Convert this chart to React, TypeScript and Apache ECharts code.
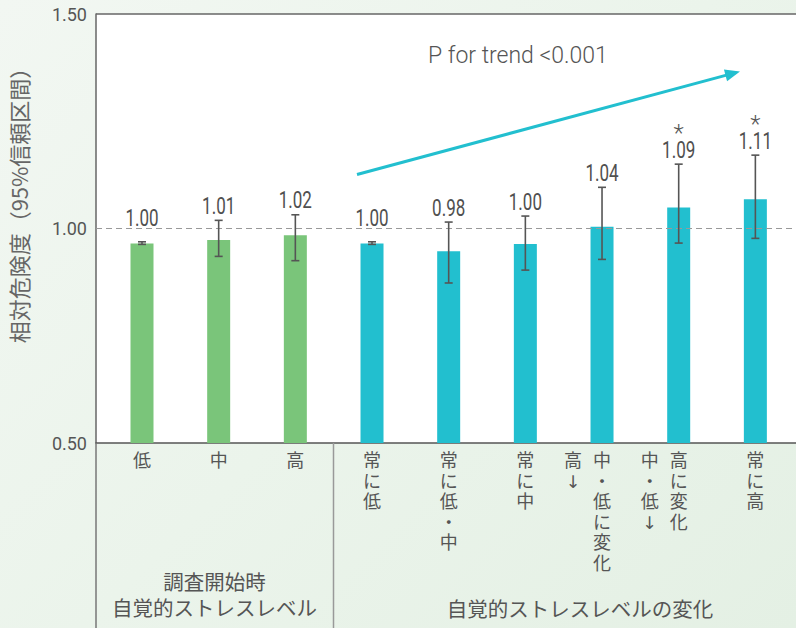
import React, { useEffect, useRef } from "react";
import * as echarts from "echarts";

// ---- data ----
const categories = ["低", "中", "高", "常に低", "常に低・中", "常に中", "中・低に変化", "高に変化", "常に高"];
const sideLabels = ["", "", "", "", "", "", "高↓", "中・低↓", ""];
const groupOf = [0, 0, 0, 1, 1, 1, 1, 1, 1];
const barValues = [0.965, 0.973, 0.984, 0.965, 0.947, 0.964, 1.004, 1.049, 1.068];
const ciLow = [0.963, 0.935, 0.925, 0.963, 0.873, 0.903, 0.928, 0.966, 0.977];
const ciHigh = [0.969, 1.019, 1.032, 0.969, 1.015, 1.029, 1.096, 1.15, 1.171];
const valueLabels = ["1.00", "1.01", "1.02", "1.00", "0.98", "1.00", "1.04", "1.09", "1.11"];
const significant = [false, false, false, false, false, false, false, true, true];
const yTicks = { min: 0.5, max: 1.5, interval: 0.5 };
const groupColors = ["#7ac57a", "#22bfcf"];
const groupTitles = ["調査開始時\n自覚的ストレスレベル", "自覚的ストレスレベルの変化"];
const trendText = "P for trend <0.001";
const yName = "相対危険度（95%信頼区間）";

const TEXT = "#555";
const CJK = "'Noto Sans CJK JP', 'Noto Sans', sans-serif";
const STACK = "'Liberation Sans', 'Noto Sans CJK JP', sans-serif";
const ARROW = "'DejaVu Sans', 'Noto Sans CJK JP', sans-serif";
const NUM = "Roboto, 'Noto Sans', sans-serif";

export default function App() {
  const ref = useRef<HTMLDivElement>(null);
  useEffect(() => {
    if (!ref.current) return;
    const chart = echarts.init(ref.current, null, { renderer: "svg" });

    const stackText = (x: number, y: number, s: string) => ({
      type: "text",
      x,
      y,
      style: {
        text: s
          .split("")
          .map((c) => (c === "↓" ? "{a|↓}" : c))
          .join("\n"),
        textAlign: "center",
        textVerticalAlign: "top",
        fontSize: 18,
        lineHeight: 20.5,
        fontFamily: STACK,
        fill: TEXT,
        rich: {
          a: { fontFamily: ARROW, fontSize: 17.5, lineHeight: 20.5, fill: TEXT },
        },
      },
    });

    const renderItem = (params: any, api: any) => {
      const i = params.dataIndex;
      const lo = api.value(1);
      const hi = api.value(2);
      const top = api.coord([i, hi]);
      const bot = api.coord([i, lo]);
      const cx = top[0];
      const anchor = api.coord([i, Math.max(hi, 0.99)])[1] - 3;
      const base = api.coord([i, yTicks.min])[1];
      const stroke = { stroke: "#555", lineWidth: 1.6 };
      const children: any[] = [
        { type: "line", shape: { x1: cx, y1: top[1], x2: cx, y2: bot[1] }, style: stroke },
        { type: "line", shape: { x1: cx - 4, y1: top[1], x2: cx + 4, y2: top[1] }, style: stroke },
        { type: "line", shape: { x1: cx - 4, y1: bot[1], x2: cx + 4, y2: bot[1] }, style: stroke },
        {
          type: "text",
          x: cx,
          y: anchor,
          scaleX: 0.74,
          style: {
            text: valueLabels[i],
            textAlign: "center",
            textVerticalAlign: "bottom",
            fontSize: 23,
            fontFamily: NUM,
            fill: "#505050",
          },
        },
        stackText(cx, base + 8, categories[i]),
      ];
      if (sideLabels[i]) children.push(stackText(cx - 29, base + 8, sideLabels[i]));
      if (significant[i]) {
        children.push({
          type: "text",
          x: cx,
          y: anchor - 28,
          style: {
            text: "*",
            textAlign: "center",
            textVerticalAlign: "middle",
            fontSize: 24,
            fontWeight: 300,
            fontFamily: NUM,
            fill: TEXT,
          },
        });
      }
      return { type: "group", children };
    };

    // arrow geometry (decoration)
    const ax1 = 357, ay1 = 174.5, ax2 = 740, ay2 = 71.5;
    const len = Math.hypot(ax2 - ax1, ay2 - ay1);
    const ux = (ax2 - ax1) / len, uy = (ay2 - ay1) / len;
    const bx = ax2 - 15 * ux, by = ay2 - 15 * uy;
    const nx = -uy, ny = ux;

    chart.setOption({
      animation: false,
      backgroundColor: "transparent",
      grid: { left: 96, right: 0, top: 14, bottom: 185, show: true, backgroundColor: "#ffffff", borderWidth: 0 },
      xAxis: {
        type: "value",
        min: -0.6,
        max: 8.53,
        axisLine: { show: true, onZero: false, lineStyle: { color: "#555", width: 1.5 } },
        axisTick: { show: false },
        axisLabel: { show: false },
        splitLine: { show: false },
      },
      yAxis: {
        type: "value",
        min: yTicks.min,
        max: yTicks.max,
        interval: yTicks.interval,
        axisLine: { show: true, onZero: false, lineStyle: { color: "#666", width: 1.5 } },
        axisTick: { show: false },
        splitLine: { show: false },
        axisLabel: {
          formatter: (v: number) => v.toFixed(2),
          fontSize: 18,
          fontFamily: NUM,
          color: TEXT,
          margin: 9,
        },
      },
      series: [
        {
          type: "bar",
          barWidth: 23,
          data: barValues.map((v, i) => ({
            value: [i, v],
            itemStyle: { color: groupColors[groupOf[i]] },
          })),
          markLine: {
            silent: true,
            symbol: "none",
            label: { show: false },
            lineStyle: { color: "#999", type: [6, 4], width: 1 },
            data: [{ yAxis: 1 }],
          },
        },
        {
          type: "custom",
          clip: false,
          z: 5,
          renderItem,
          encode: { x: 0, y: [1, 2] },
          data: categories.map((_, i) => [i, ciLow[i], ciHigh[i]]),
        },
      ],
      graphic: [
        { type: "line", z: 10, shape: { x1: 96, y1: 14, x2: 796, y2: 14 }, style: { stroke: "#666", lineWidth: 1.5 } },
        { type: "line", z: 10, shape: { x1: 96, y1: 443, x2: 96, y2: 628 }, style: { stroke: "#777", lineWidth: 1.5 } },
        { type: "line", z: 10, shape: { x1: 333.5, y1: 443, x2: 333.5, y2: 628 }, style: { stroke: "#999", lineWidth: 1.5 } },
        {
          type: "text",
          x: 17.5,
          y: 200,
          rotation: Math.PI / 2,
          style: { text: yName, textAlign: "center", textVerticalAlign: "middle", fontSize: 22, fontFamily: CJK, fill: "#666" },
        },
        {
          type: "text",
          x: 428,
          y: 55,
          style: { text: trendText, textAlign: "left", textVerticalAlign: "middle", fontSize: 23, fontWeight: 300, fontFamily: NUM, fill: TEXT },
        },
        { type: "line", z: 10, shape: { x1: ax1, y1: ay1, x2: bx + 2 * ux, y2: by + 2 * uy }, style: { stroke: "#22bfcf", lineWidth: 3 } },
        {
          type: "polygon",
          z: 10,
          shape: { points: [[ax2, ay2], [bx + 6 * nx, by + 6 * ny], [bx - 6 * nx, by - 6 * ny]] },
          style: { fill: "#22bfcf" },
        },
        {
          type: "text",
          x: 214.5,
          y: 595,
          style: { text: groupTitles[0], textAlign: "center", textVerticalAlign: "middle", fontSize: 20.5, lineHeight: 26, fontFamily: STACK, fill: TEXT },
        },
        {
          type: "text",
          x: 580,
          y: 608,
          style: { text: groupTitles[1], textAlign: "center", textVerticalAlign: "middle", fontSize: 20.5, fontFamily: CJK, fill: TEXT },
        },
      ],
    });
    return () => chart.dispose();
  }, []);

  return (
    <div
      style={{
        position: "fixed",
        left: 0,
        top: 0,
        width: 796,
        height: 628,
        background: "linear-gradient(135deg, #f2f7f2 0%, #ebf4eb 50%, #e4f0e4 100%)",
      }}
    >
      <div ref={ref} style={{ width: 796, height: 628 }} />
    </div>
  );
}
